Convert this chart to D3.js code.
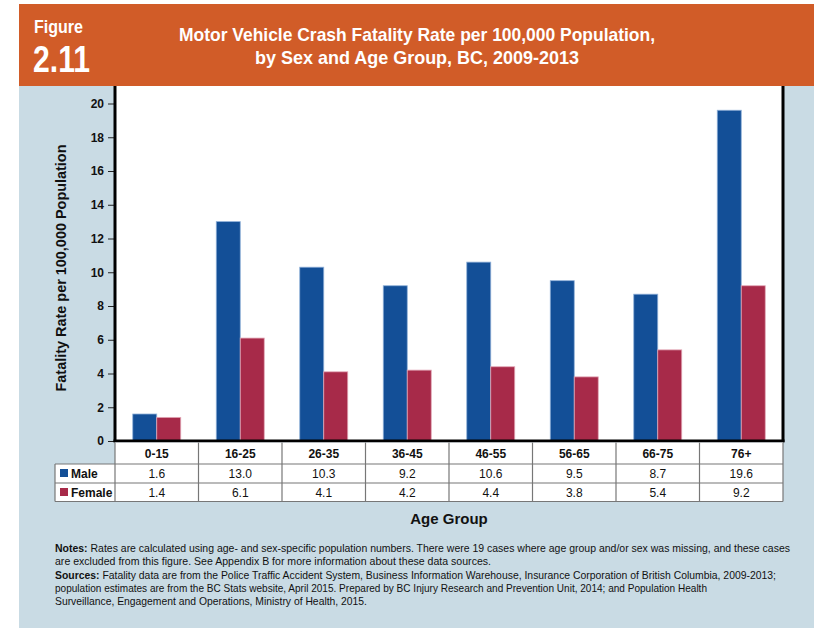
<!DOCTYPE html>
<html>
<head>
<meta charset="utf-8">
<script src="https://cdn.jsdelivr.net/npm/d3@7"></script>
<style>
  body { margin: 0; background: #fff; }
  text { font-family: "Liberation Sans", Arial, sans-serif; }
</style>
</head>
<body>
<script>
// chart values
var ageGroups = ['0-15', '16-25', '26-35', '36-45', '46-55', '56-65', '66-75', '76+'];
var maleRates = [1.6, 13.0, 10.3, 9.2, 10.6, 9.5, 8.7, 19.6];
var femaleRates = [1.4, 6.1, 4.1, 4.2, 4.4, 3.8, 5.4, 9.2];
var seriesNames = ['Male', 'Female'];
var seriesColors = ['#134f97', '#a72a49'];
var yTicks = [0, 2, 4, 6, 8, 10, 12, 14, 16, 18, 20];

var W = 834, H = 628;
var svg = d3.select('body').append('svg')
    .attr('width', W)
    .attr('height', H);

// panel + header band
svg.append('rect')
    .attr('x', 19).attr('y', 86)
    .attr('width', 795).attr('height', H - 86)
    .style('fill', '#c9dbe4');
svg.append('rect')
    .attr('x', 19).attr('y', 4)
    .attr('width', 795).attr('height', 82)
    .style('fill', '#d15c28');

svg.append('text')
    .attr('x', 34).attr('y', 33)
    .text('Figure')
    .attr('textLength', 49)
    .attr('lengthAdjust', 'spacingAndGlyphs')
    .style('fill', 'white')
    .style('font-weight', 'bold')
    .style('font-size', 19);
svg.append('text')
    .attr('x', 33).attr('y', 72)
    .text('2.11')
    .attr('textLength', 57)
    .attr('lengthAdjust', 'spacingAndGlyphs')
    .style('fill', 'white')
    .style('font-weight', 'bold')
    .style('font-size', 36);

function titleLine(txt, yPos, len) {
    svg.append('text')
        .attr('x', 417 - len / 2).attr('y', yPos)
        .text(txt)
        .attr('textLength', len)
        .attr('lengthAdjust', 'spacingAndGlyphs')
        .style('fill', 'white')
        .style('font-weight', 'bold')
        .style('font-size', 18.5);
}
titleLine('Motor Vehicle Crash Fatality Rate per 100,000 Population,', 41, 476);
titleLine('by Sex and Age Group, BC, 2009-2013', 64, 324);

// plot area
var plotLeft = 115, plotRight = 783, plotTop = 86, plotBottom = 441;

svg.append('rect')
    .attr('x', plotLeft).attr('y', plotTop)
    .attr('width', plotRight - plotLeft).attr('height', plotBottom - plotTop)
    .style('fill', 'white');

var x = d3.scaleBand()
    .domain(ageGroups)
    .range([plotLeft, plotRight]);

var xSex = d3.scaleBand()
    .domain(seriesNames)
    .range([0, x.bandwidth()])
    .paddingInner(0)
    .paddingOuter(0.74);

var y = d3.scaleLinear()
    .domain([0, 20])
    .range([plotBottom, 103.5]);

var rows = ageGroups.map(function(g, i) {
    return {group: g, values: [maleRates[i], femaleRates[i]]};
});

var groups = svg.append('g').selectAll('g')
    .data(rows)
    .enter().append('g')
    .attr('transform', function(d) { return 'translate(' + x(d.group) + ',0)'; });

groups.selectAll('rect')
    .data(function(d) {
        return d.values.map(function(v, j) { return {name: seriesNames[j], value: v, j: j}; });
    })
    .enter().append('rect')
    .attr('x', function(d) { return xSex(d.name); })
    .attr('y', function(d) { return y(d.value); })
    .attr('width', xSex.bandwidth())
    .attr('height', function(d) { return plotBottom - y(d.value); })
    .style('fill', function(d) { return seriesColors[d.j]; })
    .style('stroke', function(d) { return d.j === 0 ? '#8fb0d8' : '#e2a7b6'; })
    .style('stroke-width', 0.8);

// y axis
var yAxis = svg.append('g')
    .attr('transform', 'translate(' + (plotLeft - 1) + ',0)')
    .call(d3.axisLeft(y).tickValues(yTicks).tickSize(6).tickPadding(4));
yAxis.select('.domain').remove();
yAxis.selectAll('line').style('stroke', '#222');
yAxis.selectAll('text')
    .style('font-family', '"Liberation Sans", Arial, sans-serif')
    .style('font-weight', 'bold')
    .style('font-size', 12)
    .style('fill', '#111');

// frame lines
svg.append('line')
    .attr('x1', plotLeft).attr('x2', plotLeft)
    .attr('y1', plotTop).attr('y2', plotBottom + 1)
    .style('stroke', 'black').style('stroke-width', 3);
svg.append('line')
    .attr('x1', plotRight).attr('x2', plotRight)
    .attr('y1', plotTop).attr('y2', plotBottom + 1)
    .style('stroke', 'black').style('stroke-width', 3);
svg.append('line')
    .attr('x1', plotLeft - 1.5).attr('x2', plotRight + 1.5)
    .attr('y1', plotBottom).attr('y2', plotBottom)
    .style('stroke', 'black').style('stroke-width', 3);

svg.append('text')
    .attr('transform', 'translate(66,268) rotate(-90)')
    .text('Fatality Rate per 100,000 Population')
    .attr('text-anchor', 'middle')
    .attr('textLength', 247)
    .attr('lengthAdjust', 'spacingAndGlyphs')
    .style('font-weight', 'bold')
    .style('font-size', 15)
    .style('fill', '#111');

// data table under the axis
var tableTop = plotBottom + 1.5, rowH = [21.5, 19, 18.5];
var legendLeft = 55;
var rowY = [tableTop, tableTop + rowH[0], tableTop + rowH[0] + rowH[1], tableTop + rowH[0] + rowH[1] + rowH[2]];

svg.append('rect')
    .attr('x', plotLeft).attr('y', rowY[0])
    .attr('width', plotRight - plotLeft).attr('height', rowY[3] - rowY[0])
    .style('fill', 'white');
svg.append('rect')
    .attr('x', legendLeft).attr('y', rowY[1])
    .attr('width', plotLeft - legendLeft).attr('height', rowY[3] - rowY[1])
    .style('fill', 'white');

var grid = svg.append('g').style('stroke', '#777').style('stroke-width', 1.2);
ageGroups.forEach(function(g, i) {
    if (i > 0) {
        grid.append('line')
            .attr('x1', x(g)).attr('x2', x(g))
            .attr('y1', rowY[0]).attr('y2', rowY[3]);
    }
});
grid.append('line').attr('x1', plotRight).attr('x2', plotRight).attr('y1', rowY[0]).attr('y2', rowY[3]);
grid.append('line').attr('x1', plotLeft).attr('x2', plotLeft).attr('y1', rowY[0]).attr('y2', rowY[3]);
grid.append('line').attr('x1', legendLeft).attr('x2', legendLeft).attr('y1', rowY[1]).attr('y2', rowY[3]);
[1, 2, 3].forEach(function(r) {
    grid.append('line')
        .attr('x1', legendLeft).attr('x2', plotRight)
        .attr('y1', rowY[r]).attr('y2', rowY[r]);
});

ageGroups.forEach(function(g) {
    svg.append('text')
        .attr('x', x(g) + x.bandwidth() / 2)
        .attr('y', rowY[0] + 15)
        .text(g)
        .attr('text-anchor', 'middle')
        .style('font-weight', 'bold')
        .style('font-size', 12)
        .style('fill', '#111');
});

[maleRates, femaleRates].forEach(function(vals, r) {
    vals.forEach(function(v, i) {
        svg.append('text')
            .attr('x', x(ageGroups[i]) + x.bandwidth() / 2)
            .attr('y', rowY[r + 1] + 14)
            .text(d3.format('.1f')(v))
            .attr('text-anchor', 'middle')
            .style('font-size', 12)
            .style('fill', '#111');
    });
    svg.append('rect')
        .attr('x', legendLeft + 5).attr('y', rowY[r + 1] + 5)
        .attr('width', 8).attr('height', 8)
        .style('fill', seriesColors[r]);
    svg.append('text')
        .attr('x', legendLeft + 16)
        .attr('y', rowY[r + 1] + 14)
        .text(seriesNames[r])
        .style('font-weight', 'bold')
        .style('font-size', 12)
        .style('fill', '#111');
});

svg.append('text')
    .attr('x', 449).attr('y', 524)
    .text('Age Group')
    .attr('text-anchor', 'middle')
    .style('font-weight', 'bold')
    .style('font-size', 15)
    .style('fill', '#111');

// notes
var notes = [
    ['Notes: ', 'Rates are calculated using age- and sex-specific population numbers. There were 19 cases where age group and/or sex was missing, and these cases', 735],
    ['', 'are excluded from this figure. See Appendix B for more information about these data sources.', 436],
    ['Sources: ', 'Fatality data are from the Police Traffic Accident System, Business Information Warehouse, Insurance Corporation of British Columbia, 2009-2013;', 721],
    ['', 'population estimates are from the BC Stats website, April 2015. Prepared by BC Injury Research and Prevention Unit, 2014; and Population Health', 652],
    ['', 'Surveillance, Engagement and Operations, Ministry of Health, 2015.', 312]
];
notes.forEach(function(line, i) {
    var t = svg.append('text')
        .attr('x', 55)
        .attr('y', 552 + i * 13.3)
        .attr('textLength', line[2])
        .attr('lengthAdjust', 'spacingAndGlyphs')
        .style('font-size', 10.5)
        .style('fill', '#111');
    t.append('tspan').style('font-weight', 'bold').text(line[0]);
    t.append('tspan').text(line[1]);
});
</script>
</body>
</html>
